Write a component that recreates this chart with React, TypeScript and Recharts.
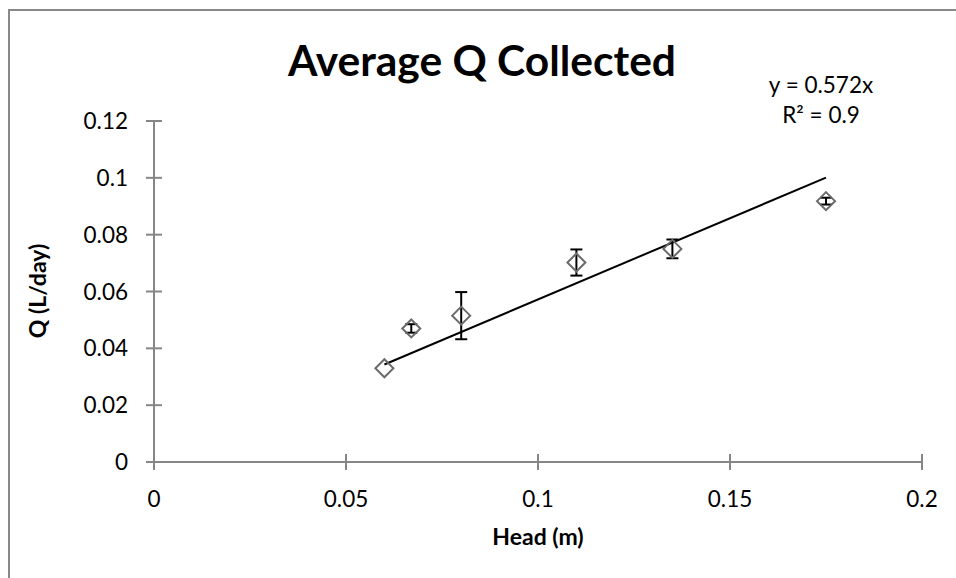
import React from "react";
import { ScatterChart, Scatter, XAxis, YAxis, ErrorBar } from "recharts";

// Average Q collected per head, with the spread of the repeat runs
const headM = [0.06, 0.067, 0.08, 0.11, 0.135, 0.175];
const avgQ = [0.033, 0.047, 0.0515, 0.0702, 0.075, 0.0918];
const qSpread = [0, 0.0015, 0.0083, 0.0046, 0.0033, 0.0012];

// linear fit through the origin
const fitSlope = 0.572;
const fitR2 = 0.9;
const fitRange = [0.06, 0.175];

const xTicks = [0, 0.05, 0.1, 0.15, 0.2];
const yTicks = [0, 0.02, 0.04, 0.06, 0.08, 0.1, 0.12];

const points = headM.map((x, i) => ({ x, y: avgQ[i], err: qSpread[i] }));
const fitLine = fitRange.map((x) => ({ x, y: fitSlope * x }));

const FONT = "Lato, 'Open Sans', sans-serif";
const AXIS_GREY = "#868686";

const Diamond = (props: any) => {
  const { cx, cy } = props;
  const r = 9;
  return (
    <path
      d={`M${cx},${cy - r} L${cx + r},${cy} L${cx},${cy + r} L${cx - r},${cy} Z`}
      fill="none"
      stroke="#6b6b6b"
      strokeWidth={2}
    />
  );
};

const XTick = (props: any) => {
  const { x, y, payload } = props;
  return (
    <g>
      <line x1={x} y1={y - 8} x2={x} y2={y + 8} stroke={AXIS_GREY} strokeWidth={2} />
      <text x={x} y={y + 45} textAnchor="middle" fontSize={22.5} fontFamily={FONT} fill="#000">
        {String(payload.value)}
      </text>
    </g>
  );
};

const YTick = (props: any) => {
  const { x, y, payload } = props;
  return (
    <g>
      <line x1={x - 8} y1={y} x2={x + 8} y2={y} stroke={AXIS_GREY} strokeWidth={2} />
      <text x={x - 26} y={y + 8} textAnchor="end" fontSize={22.5} fontFamily={FONT} fill="#000">
        {String(payload.value)}
      </text>
    </g>
  );
};

export default function App() {
  return (
    <div style={{ position: "fixed", left: 0, top: 0, width: 956, height: 578, background: "#fff", overflow: "hidden" }}>
      <div
        style={{
          position: "absolute",
          left: 8,
          top: 9,
          width: 1000,
          height: 700,
          borderLeft: "2px solid #898989",
          borderTop: "2px solid #898989",
        }}
      />
      <div style={{ position: "absolute", left: 0, top: 0 }}>
        <ScatterChart width={956} height={578} margin={{ top: 121, right: 34, bottom: 56, left: 94 }}>
          <XAxis
            type="number"
            dataKey="x"
            domain={[0, 0.2]}
            ticks={xTicks}
            tick={<XTick />}
            tickLine={false}
            tickSize={0}
            tickMargin={0}
            height={60}
            axisLine={{ stroke: AXIS_GREY, strokeWidth: 2 }}
            allowDataOverflow
          />
          <YAxis
            type="number"
            dataKey="y"
            domain={[0, 0.12]}
            ticks={yTicks}
            tick={<YTick />}
            tickLine={false}
            tickSize={0}
            tickMargin={0}
            width={60}
            axisLine={{ stroke: AXIS_GREY, strokeWidth: 2 }}
            allowDataOverflow
          />
          <Scatter
            data={fitLine}
            line={{ stroke: "#000", strokeWidth: 2 }}
            shape={() => <g />}
            isAnimationActive={false}
          />
          <Scatter data={points} shape={<Diamond />} isAnimationActive={false}>
            <ErrorBar dataKey="err" direction="y" width={6} stroke="#000" strokeWidth={2} />
          </Scatter>
        </ScatterChart>
      </div>
      <svg width={956} height={578} style={{ position: "absolute", left: 0, top: 0, pointerEvents: "none" }}>
        <text x={482} y={76} textAnchor="middle" fontSize={42.5} fontWeight={700} fontFamily={FONT} fill="#000">
          Average Q Collected
        </text>
        <text x={821} y={93} textAnchor="middle" fontSize={22.5} fontFamily={FONT} fill="#000">
          {`y = ${fitSlope}x`}
        </text>
        <text x={821} y={123} textAnchor="middle" fontSize={22.5} fontFamily={FONT} fill="#000">
          {`R² = ${fitR2}`}
        </text>
        <text x={538} y={545} textAnchor="middle" fontSize={23} fontWeight={700} fontFamily={FONT} fill="#000">
          Head (m)
        </text>
        <text
          x={0}
          y={0}
          transform="translate(46,291) rotate(-90)"
          textAnchor="middle"
          fontSize={23}
          fontWeight={700}
          fontFamily={FONT}
          fill="#000"
        >
          Q (L/day)
        </text>
      </svg>
    </div>
  );
}
